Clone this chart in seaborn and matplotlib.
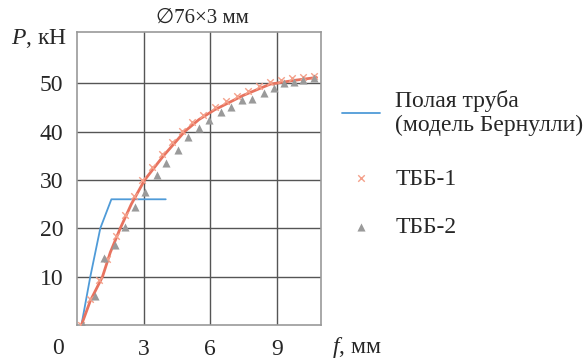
import matplotlib
matplotlib.use("Agg")
import matplotlib.pyplot as plt
import seaborn as sns

# hollow tube, Bernoulli model
tube_f = [0.2, 0.6, 1.05, 1.55, 4.0]
tube_p = [0.0, 10.0, 20.0, 26.0, 26.0]

# fitted curve through test data
fit_f = [0.2, 0.6, 1.15, 1.5, 1.95, 2.45, 3.05, 3.9, 4.85, 5.5, 6.2, 7.5, 8.7, 9.8, 10.8]
fit_p = [0.0, 5.0, 10.0, 15.0, 20.0, 25.0, 30.0, 35.0, 40.0, 42.5, 44.5, 47.5, 49.8, 50.6, 51.2]

# ТББ-1
tbb1_f = [0.2, 0.6, 1.0, 1.35, 1.75, 2.15, 2.55, 2.95, 3.4, 3.85, 4.3, 4.75, 5.2, 5.7,
          6.2, 6.7, 7.2, 7.7, 8.2, 8.7, 9.2, 9.7, 10.2, 10.7]
tbb1_p = [0.0, 5.3, 9.3, 13.6, 18.5, 22.7, 26.7, 29.9, 32.7, 35.4, 37.8, 40.2, 41.9, 43.5,
          45.1, 46.3, 47.4, 48.5, 49.4, 50.3, 50.7, 51.0, 51.3, 51.6]

# ТББ-2
tbb2_f = [0.27, 0.8, 1.23, 1.7, 2.15, 2.6, 3.08, 3.6, 4.03, 4.55, 5.0, 5.5, 5.96, 6.5,
          6.95, 7.43, 7.9, 8.43, 8.88, 9.33, 9.78, 10.2, 10.67]
tbb2_p = [0.0, 6.1, 13.8, 16.5, 20.2, 24.4, 27.5, 31.0, 33.5, 36.2, 38.9, 40.7, 42.4, 44.1,
          45.1, 46.5, 46.7, 48.0, 49.0, 50.0, 50.3, 50.7, 51.1]

sns.set_style("white")
plt.rcParams['font.family'] = ['Liberation Serif']
plt.rcParams['mathtext.fontset'] = 'custom'
plt.rcParams['mathtext.rm'] = 'Liberation Serif'
plt.rcParams['mathtext.it'] = 'Liberation Serif:italic'

fig = plt.figure(figsize=(5.85, 3.63), dpi=100)
# axes box: x 77..321 px, y 32..325 px
ax = fig.add_axes([77 / 585, 1 - 325 / 363, 244 / 585, 293 / 363])

sns.lineplot(x=tube_f, y=tube_p, ax=ax, color='#4f9bd8', lw=1.3, sort=False,
             label='Полая труба\n(модель Бернулли)')
sns.lineplot(x=fit_f, y=fit_p, ax=ax, color='#e8735f', lw=2.0, sort=False, legend=False)
sns.scatterplot(x=tbb1_f, y=tbb1_p, ax=ax, marker='x', color='#f4a08a', s=22,
                linewidth=1.0, label='ТББ-1', zorder=3)
sns.scatterplot(x=tbb2_f, y=tbb2_p, ax=ax, marker='^', color='#9a9a9a', s=34,
                linewidth=0, label='ТББ-2', zorder=4)

ax.set_xlim(0, 11)
ax.set_ylim(0, 60.6)
ax.set_xticks([3, 6, 9])
ax.set_yticks([10, 20, 30, 40, 50])
ax.grid(True, color='#555555', lw=1.0)
for s in ax.spines.values():
    s.set_color('#999999')
    s.set_linewidth(1.2)
ax.tick_params(axis='both', length=0, labelsize=17)
ax.tick_params(axis='y', pad=10)
ax.tick_params(axis='x', pad=10)
ax.set_xlabel('')
ax.set_ylabel('')

fig.text(58 / 585, 1 - 348 / 363, '0', fontsize=17, ha='center', va='center')
fig.text(332 / 585, 1 - 348 / 363, '$f$, мм', fontsize=17, ha='left', va='center')
fig.text(11 / 585, 1 - 38 / 363, '$P$, кН', fontsize=17, ha='left', va='center')
fig.text(202 / 585, 1 - 18 / 363, '∅76×3 мм', fontsize=15, ha='center', va='center',
         family=['Liberation Serif', 'DejaVu Sans'])

# two legends so the spacing after the two-line entry can follow the reference
handles, labels = ax.get_legend_handles_labels()
leg_kw = dict(bbox_transform=fig.transFigure, frameon=False, fontsize=17,
              handlelength=1.6, handletextpad=0.65, borderpad=0, borderaxespad=0)
leg1 = ax.legend(handles[:1], labels[:1], loc='upper left',
                 bbox_to_anchor=(342 / 585, 1 - 90 / 363), **leg_kw)
ax.add_artist(leg1)
ax.legend(handles[1:], labels[1:], loc='upper left', labelspacing=1.15,
          bbox_to_anchor=(342 / 585, 1 - 168 / 363), **leg_kw)

fig.savefig('out.png', dpi=100)
